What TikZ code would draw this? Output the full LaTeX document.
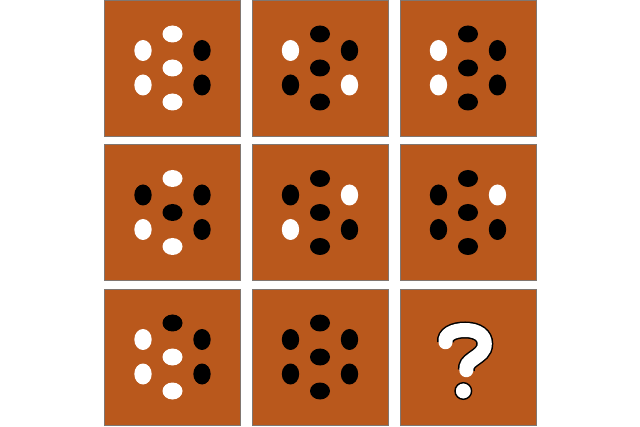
\documentclass[tikz,border=0pt]{standalone}
\usetikzlibrary{calc}
\definecolor{rust}{RGB}{185,88,28}
\definecolor{rim}{RGB}{128,118,112}

\begin{document}
\begin{tikzpicture}[x=1pt, y=1pt,
    tile/.style={fill=rust, draw=rim, line width=0.8pt},
    flat/.style={x radius=10, y radius=8.5},
    tall/.style={x radius=8.7, y radius=10.5}]
    \useasboundingbox[fill=white] (0, 0) rectangle (640, 426);
    % tiles
    \foreach \x in {172.5, 320, 468} {
      \foreach \y in {69, 213.5, 358} {
        \draw[tile] (\x-68, \y-68) rectangle (\x+68, \y+68);
        }
      }
    % dots: top, upper left, upper right, centre, lower left, lower right, bottom
    \foreach \x/\y/\dT/\dUL/\dUR/\dC/\dLL/\dLR/\dB in {
        172.5/358/white/white/black/white/white/black/white,
        320/358/black/white/black/black/black/white/black,
        468/358/black/white/black/black/white/black/black,
        172.5/213.5/white/black/black/black/white/black/white,
        320/213.5/black/black/white/black/white/black/black,
        468/213.5/black/black/white/black/black/black/black,
        172.5/69/black/white/black/white/white/black/white,
        320/69/black/black/black/black/black/black/black} {
      \fill[fill=\dT] (\x, \y+34) ellipse[flat];
      \fill[fill=\dUL] (\x-29.5, \y+17.5) ellipse[tall];
      \fill[fill=\dUR] (\x+29.5, \y+17.5) ellipse[tall];
      \fill[fill=\dC] (\x, \y) ellipse[flat];
      \fill[fill=\dLL] (\x-29.5, \y-17) ellipse[tall];
      \fill[fill=\dLR] (\x+29.5, \y-17) ellipse[tall];
      \fill[fill=\dB] (\x, \y-34) ellipse[flat];
      }
    % question mark
    \begin{scope}[shift={(468, 69)}]
      \draw[white, line width=14, line cap=round,
            preaction={draw=black, line width=17}]
        (-22.5, 14.75) .. controls (-23.5, 22.25) and (-15, 27) .. (-3, 27)
        .. controls (10, 27) and (16.8, 21.25) .. (16.8, 13.25)
        .. controls (16.8, 5.25) and (11, 2.25) .. (5.5, -1.75)
        .. controls (0, -5.75) and (-1.7, -7.75) .. (-1.7, -13.25);
      \draw[fill=white, line width=1.4] (-4.7, -34) circle[radius=8.3];
    \end{scope}
  \end{tikzpicture}
\end{document}
